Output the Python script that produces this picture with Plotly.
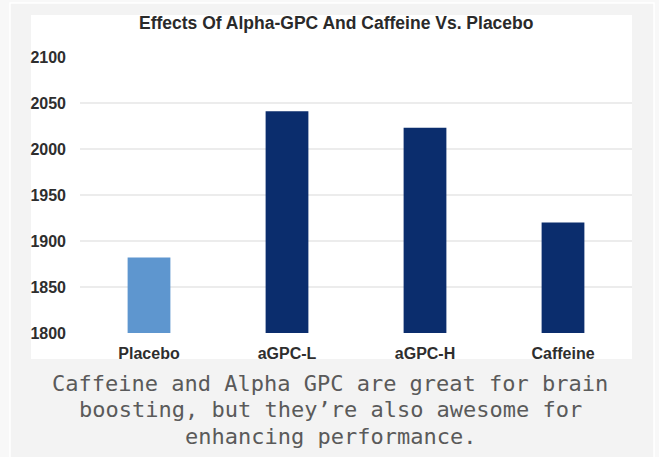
import plotly.graph_objects as go

categories = ["Placebo", "aGPC-L", "aGPC-H", "Caffeine"]
values = [1882, 2041, 2023, 1920]
bar_colors = ["#5e96cf", "#0b2d6d", "#0b2d6d", "#0b2d6d"]
y_ticks = [1800, 1850, 1900, 1950, 2000, 2050, 2100]
title_text = "Effects Of Alpha-GPC And Caffeine Vs. Placebo"
caption_lines = [
    "Caffeine and Alpha GPC are great for brain",
    "boosting, but they\u2019re also awesome for",
    "enhancing performance.",
]

W, H = 659, 457
ML, MR, MT, MB = 80, 27, 57, 124
PW, PH = W - ML - MR, H - MT - MB


def px(x):
    return (x - ML) / PW


def py(y):
    return (H - MB - y) / PH


fig = go.Figure(
    go.Bar(
        x=categories,
        y=values,
        marker=dict(color=bar_colors, line=dict(width=0)),
        base=0,
    )
)

shapes = [
    # gray panel
    dict(type="rect", xref="paper", yref="paper", layer="below",
         x0=px(10), x1=px(654), y0=py(3), y1=py(470),
         fillcolor="#f3f3f3", line=dict(color="#ffffff", width=1.5)),
    # white chart image
    dict(type="rect", xref="paper", yref="paper", layer="below",
         x0=px(31), x1=px(632), y0=py(15), y1=py(359),
         fillcolor="#ffffff", line=dict(width=0)),
    # clip bottom of x labels
    dict(type="rect", xref="paper", yref="paper", layer="above",
         x0=px(31), x1=px(632), y0=py(359), y1=py(368),
         fillcolor="#f3f3f3", line=dict(width=0)),
]

annotations = [
    dict(text="<b>" + title_text + "</b>", xref="paper", yref="paper",
         x=px(336), y=py(22.5), xanchor="center", yanchor="middle",
         showarrow=False,
         font=dict(family="Liberation Sans, Arial, sans-serif", size=17.5, color="#2a2a2a")),
]
caption_y = [383, 409.5, 436]
for line, yy in zip(caption_lines, caption_y):
    annotations.append(
        dict(text=line, xref="paper", yref="paper", x=px(330), y=py(yy),
             xanchor="center", yanchor="middle", showarrow=False,
             font=dict(family="DejaVu Sans Mono, monospace", size=22, color="#5a5a5a"))
    )

fig.update_layout(
    width=W, height=H,
    margin=dict(l=ML, r=MR, t=MT, b=MB, pad=0),
    paper_bgcolor="#f8f8f8",
    plot_bgcolor="#ffffff",
    bargap=0.69,
    showlegend=False,
    shapes=shapes,
    annotations=annotations,
    xaxis=dict(
        showgrid=False, zeroline=False, showline=False, ticks="",
        tickfont=dict(family="Liberation Sans, Arial, sans-serif", size=16, color="#2e2e2e", weight="bold"),
        ticklabelstandoff=9,
    ),
    yaxis=dict(
        range=[1800, 2100], tickvals=y_ticks, ticktext=[str(v) for v in y_ticks],
        showgrid=True, gridcolor="#ececec", gridwidth=2,
        zeroline=False, showline=False, ticks="",
        tickfont=dict(family="Liberation Sans, Arial, sans-serif", size=16, color="#2e2e2e", weight="bold"),
        ticklabelstandoff=13,
    ),
)

fig.write_html("out.html")
